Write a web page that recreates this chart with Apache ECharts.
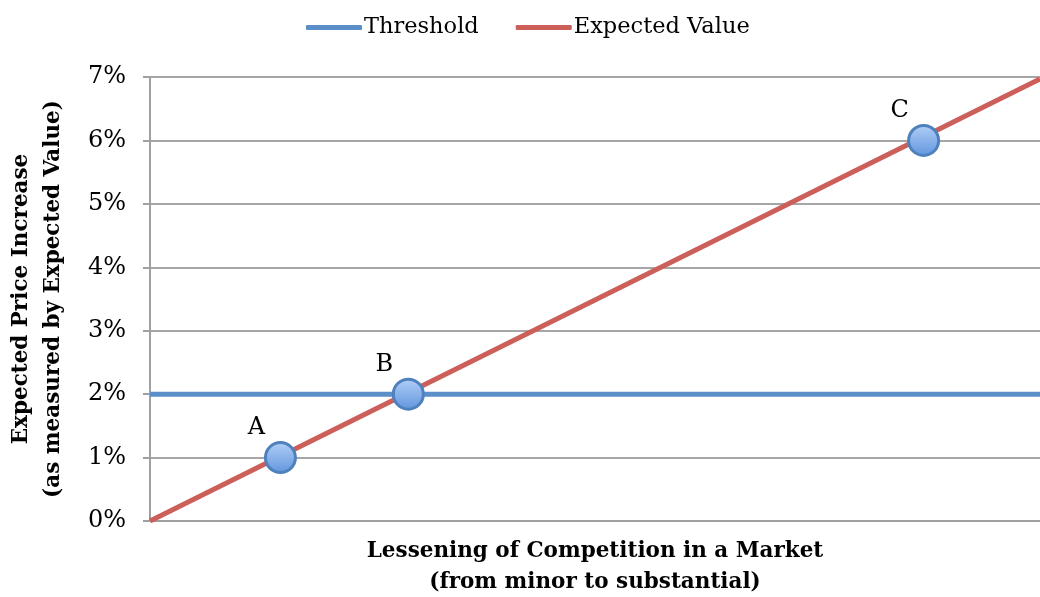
<!DOCTYPE html>
<html>
<head>
<meta charset="utf-8">
<script src="https://cdn.jsdelivr.net/npm/echarts@6/dist/echarts.min.js"></script>
<style>
  html, body { margin: 0; padding: 0; background: #fff; }
  #chart { width: 1040px; height: 597px; }
</style>
</head>
<body>
<div id="chart"></div>
<script>
  // x runs from "minor" (0) to "substantial"; y is the expected price increase in %
  var thresholdX = [0, 6.96];
  var thresholdY = [2, 2];
  var expectedX = [0, 6.96];
  var expectedY = [0, 6.97];
  var pointNames = ['A', 'B', 'C'];
  var pointX = [1.02, 2.02, 6.05];
  var pointY = [1, 2, 6];
  var yTicks = [0, 1, 2, 3, 4, 5, 6, 7];

  var font = 'DejaVu Serif';

  function pairs(xs, ys) {
    var out = [];
    for (var i = 0; i < xs.length; i++) out.push([xs[i], ys[i]]);
    return out;
  }

  var points = [];
  for (var i = 0; i < pointNames.length; i++) {
    points.push({ name: pointNames[i], value: [pointX[i], pointY[i]] });
  }

  var chart = echarts.init(document.getElementById('chart'));
  var options = {
    animation: false,
    textStyle: { fontFamily: font },
    legend: {
      top: 11,
      left: 301,
      icon: 'roundRect',
      itemWidth: 56,
      itemHeight: 5,
      itemGap: 37,
      textStyle: { fontFamily: font, fontSize: 22.5, color: '#000', padding: [0, 0, 0, -3] },
      data: ['Threshold', 'Expected Value']
    },
    grid: {
      left: 150,
      right: 0,
      top: 77,
      bottom: 76,
      containLabel: false,
      outerBoundsMode: 'none'
    },
    xAxis: {
      type: 'value',
      min: 0,
      max: 6.96,
      name: 'Lessening of Competition in a Market\n(from minor to substantial)',
      nameLocation: 'middle',
      nameGap: 15,
      nameTextStyle: { fontFamily: font, fontSize: 21.5, fontWeight: 'bold', color: '#000', lineHeight: 31 },
      axisLine: { show: true, lineStyle: { color: '#a0a0a0', width: 2 } },
      axisTick: { show: false },
      axisLabel: { show: false },
      splitLine: { show: false }
    },
    yAxis: {
      type: 'value',
      min: yTicks[0],
      max: yTicks[yTicks.length - 1],
      interval: 1,
      name: 'Expected Price Increase\n(as measured by Expected Value)',
      nameLocation: 'middle',
      nameGap: 81,
      nameTextStyle: { fontFamily: font, fontSize: 21.5, fontWeight: 'bold', color: '#000', lineHeight: 32 },
      axisLine: { show: true, lineStyle: { color: '#a0a0a0', width: 2 } },
      axisTick: { show: true, length: 7, lineStyle: { color: '#a0a0a0', width: 2 } },
      axisLabel: {
        margin: 24,
        fontFamily: font,
        fontSize: 24,
        color: '#000',
        formatter: '{value}%'
      },
      splitLine: { show: true, lineStyle: { color: '#a6a6a6', width: 2 } }
    },
    series: [
      {
        name: 'Threshold',
        type: 'line',
        data: pairs(thresholdX, thresholdY),
        symbol: 'none',
        lineStyle: { color: '#5b8fca', width: 5 },
        itemStyle: { color: '#5b8fca' },
        z: 2
      },
      {
        name: 'Expected Value',
        type: 'line',
        data: pairs(expectedX, expectedY),
        symbol: 'none',
        lineStyle: { color: '#cc5f59', width: 5 },
        itemStyle: { color: '#cc5f59' },
        z: 3
      },
      {
        name: 'points',
        type: 'scatter',
        data: points,
        symbol: 'circle',
        symbolSize: 30,
        itemStyle: {
          color: {
            type: 'linear', x: 0, y: 0, x2: 0, y2: 1,
            colorStops: [
              { offset: 0, color: '#b4d0f7' },
              { offset: 1, color: '#5f94de' }
            ]
          },
          borderColor: '#4f81bd',
          borderWidth: 3,
          opacity: 1
        },
        label: {
          show: true,
          position: 'top',
          offset: [-24, 4],
          formatter: '{b}',
          fontFamily: font,
          fontSize: 24,
          color: '#000'
        },
        z: 5
      }
    ]
  };
  chart.setOption(options);
</script>
</body>
</html>
